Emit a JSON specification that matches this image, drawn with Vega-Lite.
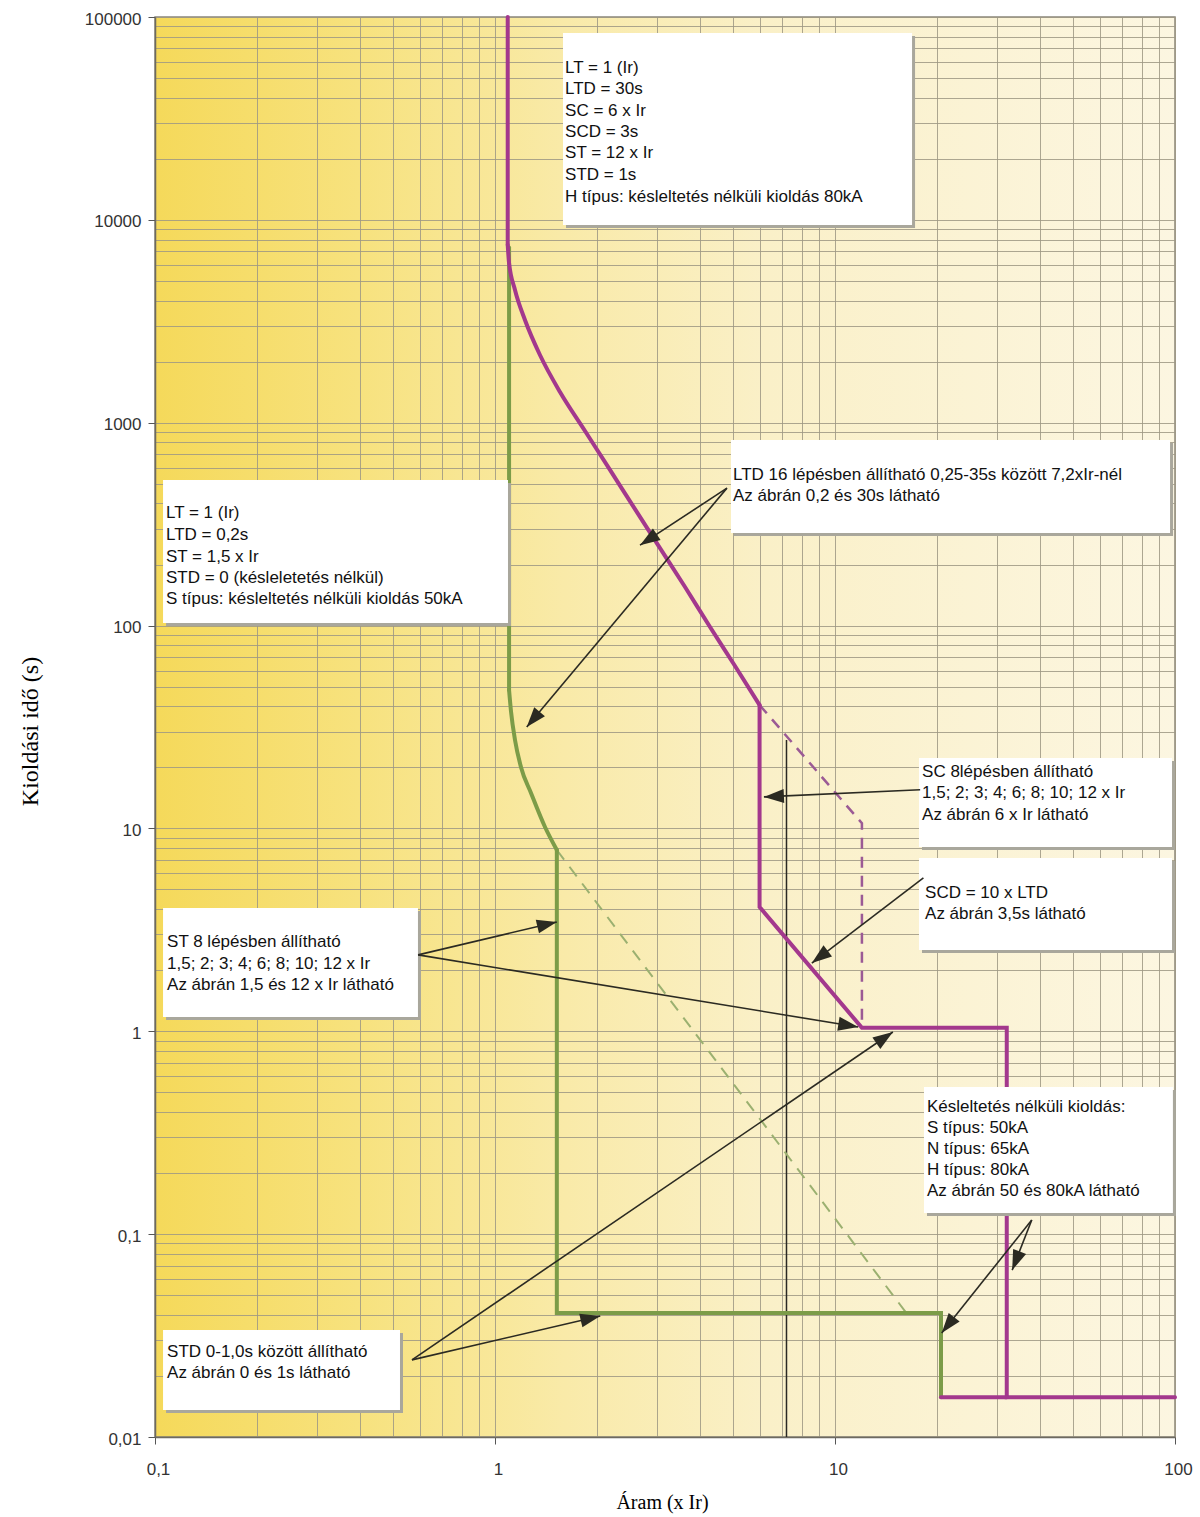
{
  "$schema": "https://vega.github.io/schema/vega-lite/v6.json",
  "width": 1020,
  "height": 1420,
  "autosize": {"type": "none"},
  "padding": {"left": 155, "top": 17, "right": 25, "bottom": 80},
  "background": "#ffffff",
  "view": {
    "stroke": "#8a877a",
    "strokeWidth": 1.5,
    "fill": {"gradient": "linear", "x1": 0, "y1": 0, "x2": 1, "y2": 0,
      "stops": [
        {"offset": 0, "color": "#f5d95a"},
        {"offset": 0.2, "color": "#f7e27e"},
        {"offset": 0.4, "color": "#f9eaa8"},
        {"offset": 0.6, "color": "#faf0c8"},
        {"offset": 1, "color": "#fcf6e1"}
      ]}
  },
  "config": {"font": "Liberation Sans"},
  "datasets": {
    "curves": [
      {"id": "m1", "o": 0, "x": 1.09, "y": 100000},
      {"id": "m1", "o": 1, "x": 1.09, "y": 7520},
      {"id": "mc", "o": 0, "x": 1.09, "y": 7520},
      {"id": "mc", "o": 1, "x": 1.099, "y": 6200},
      {"id": "mc", "o": 2, "x": 1.145, "y": 4510},
      {"id": "mc", "o": 3, "x": 1.225, "y": 3210},
      {"id": "mc", "o": 4, "x": 1.356, "y": 2157},
      {"id": "mc", "o": 5, "x": 1.553, "y": 1418},
      {"id": "mc", "o": 6, "x": 1.84, "y": 910},
      {"id": "mc", "o": 7, "x": 2.179, "y": 585},
      {"id": "mc", "o": 8, "x": 2.581, "y": 375},
      {"id": "mc", "o": 9, "x": 3.057, "y": 241},
      {"id": "mc", "o": 10, "x": 3.622, "y": 155},
      {"id": "mc", "o": 11, "x": 4.29, "y": 98.4},
      {"id": "mc", "o": 12, "x": 5.081, "y": 63.2},
      {"id": "mc", "o": 13, "x": 6, "y": 40.6},
      {"id": "m2", "o": 0, "x": 6, "y": 40.6},
      {"id": "m2", "o": 1, "x": 6, "y": 4.1},
      {"id": "m2", "o": 2, "x": 12, "y": 1.04},
      {"id": "m2", "o": 3, "x": 32, "y": 1.04},
      {"id": "m2", "o": 4, "x": 32, "y": 0.0157},
      {"id": "m2", "o": 5, "x": 100, "y": 0.0157},
      {"id": "m3", "o": 0, "x": 20.5, "y": 0.0157},
      {"id": "m3", "o": 1, "x": 32, "y": 0.0157},
      {"id": "magd", "o": 0, "x": 6, "y": 40.6},
      {"id": "magd", "o": 1, "x": 12, "y": 10.6},
      {"id": "magd", "o": 2, "x": 12, "y": 1.04},
      {"id": "g1", "o": 0, "x": 1.1, "y": 7300},
      {"id": "g1", "o": 1, "x": 1.1, "y": 48.1},
      {"id": "gc", "o": 0, "x": 1.1, "y": 48.1},
      {"id": "gc", "o": 1, "x": 1.115, "y": 37.5},
      {"id": "gc", "o": 2, "x": 1.145, "y": 27.3},
      {"id": "gc", "o": 3, "x": 1.192, "y": 20.1},
      {"id": "gc", "o": 4, "x": 1.276, "y": 14.95},
      {"id": "gc", "o": 5, "x": 1.403, "y": 10.16},
      {"id": "gc", "o": 6, "x": 1.52, "y": 7.83},
      {"id": "g2", "o": 0, "x": 1.52, "y": 7.83},
      {"id": "g2", "o": 1, "x": 1.52, "y": 0.0408},
      {"id": "g2", "o": 2, "x": 20.5, "y": 0.0408},
      {"id": "g2", "o": 3, "x": 20.5, "y": 0.0157},
      {"id": "grnd", "o": 0, "x": 1.52, "y": 7.83},
      {"id": "grnd", "o": 1, "x": 16.1, "y": 0.0415},
      {"id": "blk", "o": 0, "x": 7.2, "y": 27.3},
      {"id": "blk", "o": 1, "x": 7.2, "y": 0.01}
    ],
    "boxes": [
      {"x": 1.585, "x2": 16.85, "y": 83400, "y2": 9434},
      {"x": 0.1056, "x2": 1.092, "y": 522.2, "y2": 103.0},
      {"x": 4.944, "x2": 96.7, "y": 821.8, "y2": 286.0},
      {"x": 17.66, "x2": 98.0, "y": 22.25, "y2": 8.10},
      {"x": 17.66, "x2": 98.0, "y": 7.15, "y2": 2.516},
      {"x": 0.1056, "x2": 0.5935, "y": 4.054, "y2": 1.176},
      {"x": 18.27, "x2": 98.6, "y": 0.5314, "y2": 0.1271},
      {"x": 0.1056, "x2": 0.5255, "y": 0.03369, "y2": 0.01359}
    ],
    "labels": [
      {"x": 1.607, "y": 56050, "t": "LT = 1 (Ir)"},
      {"x": 1.607, "y": 44180, "t": "LTD = 30s"},
      {"x": 1.607, "y": 34410, "t": "SC = 6 x Ir"},
      {"x": 1.607, "y": 27110, "t": "SCD = 3s"},
      {"x": 1.607, "y": 21360, "t": "ST = 12 x Ir"},
      {"x": 1.607, "y": 16640, "t": "STD = 1s"},
      {"x": 1.607, "y": 12960, "t": "H típus: késleltetés nélküli kioldás 80kA"},
      {"x": 0.1077, "y": 356.9, "t": "LT = 1 (Ir)"},
      {"x": 0.1077, "y": 279.6, "t": "LTD = 0,2s"},
      {"x": 0.1077, "y": 219.0, "t": "ST = 1,5 x Ir"},
      {"x": 0.1077, "y": 171.6, "t": "STD = 0 (késleletetés nélkül)"},
      {"x": 0.1077, "y": 134.5, "t": "S típus: késleltetés nélküli kioldás 50kA"},
      {"x": 5.012, "y": 552.5, "t": "LTD 16 lépésben állítható 0,25-35s között 7,2xIr-nél"},
      {"x": 5.012, "y": 435.5, "t": "Az ábrán 0,2 és 30s látható"},
      {"x": 18.03, "y": 18.98, "t": "SC 8lépésben állítható"},
      {"x": 18.03, "y": 14.87, "t": "1,5; 2; 3; 4; 6; 8; 10; 12 x Ir"},
      {"x": 18.03, "y": 11.65, "t": "Az ábrán 6 x Ir látható"},
      {"x": 18.40, "y": 4.806, "t": "SCD = 10 x LTD"},
      {"x": 18.40, "y": 3.787, "t": "Az ábrán 3,5s látható"},
      {"x": 0.1085, "y": 2.755, "t": "ST 8 lépésben állítható"},
      {"x": 0.1085, "y": 2.146, "t": "1,5; 2; 3; 4; 6; 8; 10; 12 x Ir"},
      {"x": 0.1085, "y": 1.691, "t": "Az ábrán 1,5 és 12 x Ir látható"},
      {"x": 18.65, "y": 0.4233, "t": "Késleltetés nélküli kioldás:"},
      {"x": 18.65, "y": 0.3338, "t": "S típus: 50kA"},
      {"x": 18.65, "y": 0.2630, "t": "N típus: 65kA"},
      {"x": 18.65, "y": 0.2072, "t": "H típus: 80kA"},
      {"x": 18.65, "y": 0.1632, "t": "Az ábrán 50 és 80kA látható"},
      {"x": 0.1085, "y": 0.02624, "t": "STD 0-1,0s között állítható"},
      {"x": 0.1085, "y": 0.02068, "t": "Az ábrán 0 és 1s látható"}
    ],
    "arrows": [
      {"x": 4.81, "y": 476, "x2": 2.67, "y2": 249},
      {"x": 4.81, "y": 476, "x2": 1.24, "y2": 31.6},
      {"x": 17.8, "y": 15.5, "x2": 6.18, "y2": 14.3},
      {"x": 18.2, "y": 5.70, "x2": 8.55, "y2": 2.17},
      {"x": 0.594, "y": 2.38, "x2": 1.52, "y2": 3.46},
      {"x": 0.594, "y": 2.38, "x2": 11.7, "y2": 1.05},
      {"x": 0.570, "y": 0.024, "x2": 2.04, "y2": 0.0395},
      {"x": 0.570, "y": 0.024, "x2": 14.8, "y2": 0.992},
      {"x": 37.9, "y": 0.1175, "x2": 33.2, "y2": 0.0665},
      {"x": 37.9, "y": 0.1175, "x2": 20.6, "y2": 0.0326}
    ],
    "heads": [
      {"x": 2.67, "y": 249, "dir": 236.8},
      {"x": 1.24, "y": 31.6, "dir": 219.9},
      {"x": 6.18, "y": 14.3, "dir": 267.4},
      {"x": 8.55, "y": 2.17, "dir": 232.6},
      {"x": 1.52, "y": 3.46, "dir": 76.6},
      {"x": 11.7, "y": 1.05, "dir": 99.3},
      {"x": 2.04, "y": 0.0395, "dir": 76.8},
      {"x": 14.8, "y": 0.992, "dir": 55.7},
      {"x": 33.2, "y": 0.0665, "dir": 201.8},
      {"x": 20.6, "y": 0.0326, "dir": 218.5}
    ]
  },
  "encoding": {
    "x": {"field": "x", "type": "quantitative",
      "scale": {"type": "log", "domain": [0.1, 100]},
      "axis": {
        "values": [0.1,0.2,0.3,0.4,0.5,0.6,0.7,0.8,0.9,1,2,3,4,5,6,7,8,9,10,20,30,40,50,60,70,80,90,100],
        "grid": true, "gridColor": "#9d9884", "gridWidth": 1, "gridOpacity": 0.85,
        "domainColor": "#6d6a60", "domainWidth": 1.5,
        "tickSize": 7, "tickColor": "#555555",
        "tickOpacity": {"condition": {"test": "abs(log(datum.value)/LN10 - round(log(datum.value)/LN10)) < 0.001", "value": 1}, "value": 0},
        "labelExpr": "abs(log(datum.value)/LN10 - round(log(datum.value)/LN10)) < 0.001 ? replace(format(datum.value, ''), '.', ',') : ''",
        "labelFont": "Liberation Sans", "labelFontSize": 17, "labelColor": "#333333",
        "labelPadding": 17, "labelOffset": 3, "labelFlush": false, "labelOverlap": false,
        "title": "Áram (x Ir)", "titleFont": "Liberation Serif", "titleFontSize": 20,
        "titleFontWeight": "normal", "titleColor": "#000000",
        "titleX": 507, "titleY": 65, "titleBaseline": "middle", "titleAnchor": "middle"
      }},
    "y": {"field": "y", "type": "quantitative",
      "scale": {"type": "log", "domain": [0.01, 100000]},
      "axis": {
        "values": [0.01,0.02,0.03,0.04,0.05,0.06,0.07,0.08,0.09,0.1,0.2,0.3,0.4,0.5,0.6,0.7,0.8,0.9,1,2,3,4,5,6,7,8,9,10,20,30,40,50,60,70,80,90,100,200,300,400,500,600,700,800,900,1000,2000,3000,4000,5000,6000,7000,8000,9000,10000,20000,30000,40000,50000,60000,70000,80000,90000,100000],
        "grid": true, "gridColor": "#9d9884", "gridWidth": 1, "gridOpacity": 0.85,
        "domainColor": "#6d6a60", "domainWidth": 1.5,
        "tickSize": 7, "tickColor": "#555555",
        "tickOpacity": {"condition": {"test": "abs(log(datum.value)/LN10 - round(log(datum.value)/LN10)) < 0.001", "value": 1}, "value": 0},
        "labelExpr": "abs(log(datum.value)/LN10 - round(log(datum.value)/LN10)) < 0.001 ? replace(format(datum.value, ''), '.', ',') : ''",
        "labelFont": "Liberation Sans", "labelFontSize": 17, "labelColor": "#333333",
        "labelPadding": 7, "labelOffset": 2, "labelFlush": false, "labelOverlap": false,
        "title": "Kioldási idő (s)", "titleFont": "Liberation Serif", "titleFontSize": 24,
        "titleFontWeight": "normal", "titleColor": "#000000",
        "titleX": -125, "titleY": 714, "titleBaseline": "middle", "titleAnchor": "middle"
      }}
  },
  "layer": [
    {
      "data": {"name": "curves"},
      "transform": [{"filter": "datum.id === 'blk'"}],
      "mark": {"type": "line", "color": "#2a2822", "strokeWidth": 1.5},
      "encoding": {"order": {"field": "o"}}
    },
    {
      "data": {"name": "curves"},
      "transform": [{"filter": "datum.id === 'magd'"}],
      "mark": {"type": "line", "color": "#9b5a95", "strokeWidth": 2.5, "strokeDash": [11, 8]},
      "encoding": {"order": {"field": "o"}}
    },
    {
      "data": {"name": "curves"},
      "transform": [{"filter": "datum.id === 'grnd'"}],
      "mark": {"type": "line", "color": "#9bb070", "strokeWidth": 2, "strokeDash": [12, 9]},
      "encoding": {"order": {"field": "o"}}
    },
    {
      "data": {"name": "curves"},
      "transform": [{"filter": "datum.id === 'g1' || datum.id === 'g2'"}],
      "mark": {"type": "line", "color": "#7c9c48", "strokeWidth": 4, "strokeCap": "round"},
      "encoding": {"detail": {"field": "id"}, "order": {"field": "o"}}
    },
    {
      "data": {"name": "curves"},
      "transform": [{"filter": "datum.id === 'gc'"}],
      "mark": {"type": "line", "color": "#7c9c48", "strokeWidth": 4, "strokeCap": "round", "interpolate": "monotone"},
      "encoding": {"order": {"field": "o"}}
    },
    {
      "data": {"name": "curves"},
      "transform": [{"filter": "datum.id === 'm1' || datum.id === 'm2' || datum.id === 'm3'"}],
      "mark": {"type": "line", "color": "#a3388d", "strokeWidth": 4, "strokeCap": "round"},
      "encoding": {"detail": {"field": "id"}, "order": {"field": "o"}}
    },
    {
      "data": {"name": "curves"},
      "transform": [{"filter": "datum.id === 'mc'"}],
      "mark": {"type": "line", "color": "#a3388d", "strokeWidth": 4, "strokeCap": "round", "interpolate": "monotone"},
      "encoding": {"order": {"field": "o"}}
    },
    {
      "data": {"name": "boxes"},
      "mark": {"type": "rect", "color": "#a9a79c", "xOffset": 3, "x2Offset": 3, "yOffset": 3, "y2Offset": 3},
      "encoding": {"x2": {"field": "x2"}, "y2": {"field": "y2"}}
    },
    {
      "data": {"name": "boxes"},
      "mark": {"type": "rect", "color": "#ffffff"},
      "encoding": {"x2": {"field": "x2"}, "y2": {"field": "y2"}}
    },
    {
      "data": {"name": "arrows"},
      "mark": {"type": "rule", "color": "#2b2a22", "strokeWidth": 1.6},
      "encoding": {"x2": {"field": "x2"}, "y2": {"field": "y2"}}
    },
    {
      "data": {"name": "heads"},
      "mark": {"type": "point", "filled": true, "color": "#2b2a22", "opacity": 1, "size": 400, "shape": "M0,0L-0.7,2L0.7,2Z"},
      "encoding": {"angle": {"field": "dir", "type": "quantitative", "scale": null}}
    },
    {
      "data": {"name": "labels"},
      "mark": {"type": "text", "align": "left", "baseline": "middle", "font": "Liberation Sans", "fontSize": 17, "color": "#111111"},
      "encoding": {"text": {"field": "t"}}
    }
  ]
}
